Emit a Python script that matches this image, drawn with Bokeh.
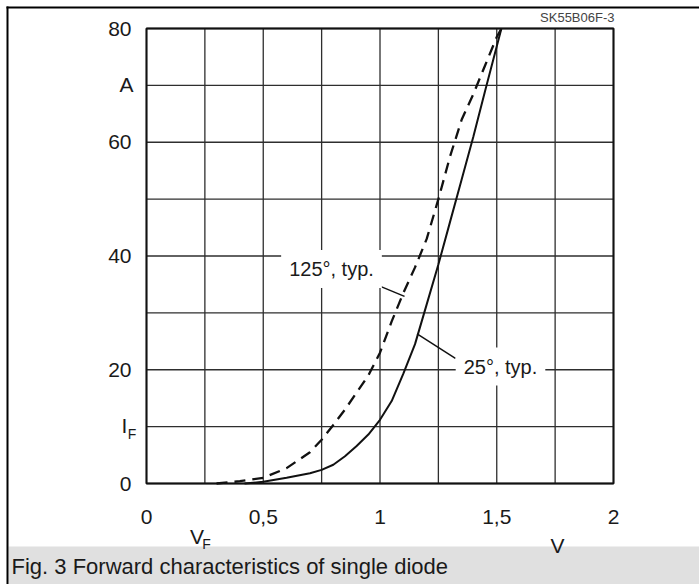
from bokeh.plotting import figure
from bokeh.models import Range1d, Label
from bokeh.embed import file_html
from bokeh.resources import INLINE

# ---- data ----
v_25 = [0.42, 0.5, 0.6, 0.7, 0.75, 0.8, 0.85, 0.9, 0.95, 1.0, 1.05, 1.1, 1.15, 1.2, 1.25, 1.3, 1.35, 1.4, 1.45, 1.52]
i_25 = [0.0, 0.3, 1.0, 1.8, 2.4, 3.3, 4.8, 6.6, 8.6, 11.2, 14.5, 19.3, 24.5, 31.5, 38.5, 46.0, 53.5, 61.0, 69.0, 80.0]
v_125 = [0.3, 0.4, 0.5, 0.6, 0.7, 0.75, 0.8, 0.85, 0.9, 0.95, 1.0, 1.05, 1.1, 1.15, 1.2, 1.25, 1.3, 1.35, 1.4, 1.45, 1.5, 1.52]
i_125 = [0.0, 0.4, 1.0, 2.7, 5.5, 7.7, 10.3, 13.0, 16.0, 19.0, 23.0, 28.5, 33.5, 38.0, 43.0, 50.0, 57.5, 64.0, 68.5, 73.5, 78.5, 80.0]
x_ticks = [0, 0.5, 1, 1.5, 2]
x_tick_labels = ["0", "0,5", "1", "1,5", "2"]
y_ticks = [0, 20, 40, 60, 80]
y_tick_labels = ["0", "20", "40", "60", "80"]
x_grid = [0, 0.25, 0.5, 0.75, 1.0, 1.25, 1.5, 1.75, 2.0]
y_grid = [0, 10, 20, 30, 40, 50, 60, 70, 80]
x_lim = [0, 2]
y_lim = [0, 80]
label_125 = "125°, typ."
label_25 = "25°, typ."
leader_125_v = [0.994, 1.105]
leader_125_i = [34.8, 32.9]
leader_25_v = [1.159, 1.323]
leader_25_i = [26.3, 22.0]
caption = "Fig. 3 Forward characteristics of single diode"
code_text = "SK55B06F-3"

FONT = "Liberation Sans"
TXT = "#1a1a1a"

# pixel layout of the plot frame (page pixels)
X0, Y0 = 146.0, 483.0
PX_PER_V = 233.5
PX_PER_A = 5.6875


def X(px):
    return (px - X0) / PX_PER_V


def Y(py):
    return (Y0 - py) / PX_PER_A


p = figure(width=699, height=584, min_border=0,
           x_range=Range1d(X(0), X(699)), y_range=Range1d(Y(584), Y(0)),
           x_axis_type=None, y_axis_type=None,
           output_backend="svg", toolbar_location=None)
p.background_fill_color = "white"
p.border_fill_color = "white"
p.outline_line_color = None
p.grid.visible = False

# caption band and outer frame lines
p.quad(left=X(8), right=X(699), top=Y(546), bottom=Y(584),
       fill_color="#e0e0e0", line_color=None)
p.quad(left=X(6), right=X(8), top=Y(6), bottom=Y(584), fill_color="black", line_color=None)
p.quad(left=X(6), right=X(699), top=Y(6), bottom=Y(8), fill_color="black", line_color=None)

# grid
p.segment(x0=x_grid, y0=[y_lim[0]] * len(x_grid), x1=x_grid, y1=[y_lim[1]] * len(x_grid),
          line_color="#2e2e2e", line_width=1.3)
p.segment(x0=[x_lim[0]] * len(y_grid), y0=y_grid, x1=[x_lim[1]] * len(y_grid), y1=y_grid,
          line_color="#2e2e2e", line_width=1.3)
p.quad(left=x_lim[0], right=x_lim[1], bottom=y_lim[0], top=y_lim[1],
       fill_color=None, line_color="#111111", line_width=2)

# curves
p.line(v_25, i_25, line_color="#111111", line_width=2)
p.line(v_125, i_125, line_color="#111111", line_width=2.3, line_dash="11 7")
p.line(leader_125_v, leader_125_i, line_color="#111111", line_width=1.5)
p.line(leader_25_v, leader_25_i, line_color="#111111", line_width=1.5)


def lab(text, x, y, size="21px", align="left", color=TXT, bg=None, pad=0):
    kw = dict(x=x, y=y, text=text, text_font=FONT, text_font_size=size,
              text_align=align, text_baseline="middle", text_color=color)
    if bg is not None:
        kw.update(background_fill_color=bg, padding=pad)
    p.add_layout(Label(**kw))


# tick labels
for t, s in zip(x_ticks, x_tick_labels):
    lab(s, t, Y(516), align="center")
for t, s in zip(y_ticks, y_tick_labels):
    lab(s, X(131), t, align="right")

# curve labels
lab(label_125, X(331), Y(268.5), size="20px", align="center", bg="white", pad=8)
lab(label_25, X(500), Y(366), size="20px", align="center", bg="white", pad=8)

# axis names
lab("A", X(126), Y(84), align="center")
lab("I", X(124), Y(425), align="center")
lab("F", X(131.5), Y(433), size="14px", align="center")
lab("V", X(196.5), Y(536), align="center")
lab("F", X(206), Y(543), size="14px", align="center")
lab("V", X(557), Y(545), align="center")
lab(code_text, X(614), Y(17), size="13px", align="right", color="#444444")
lab(caption, X(11), Y(566), size="22px", align="left")

open("out.html", "w").write(file_html(p, INLINE))
